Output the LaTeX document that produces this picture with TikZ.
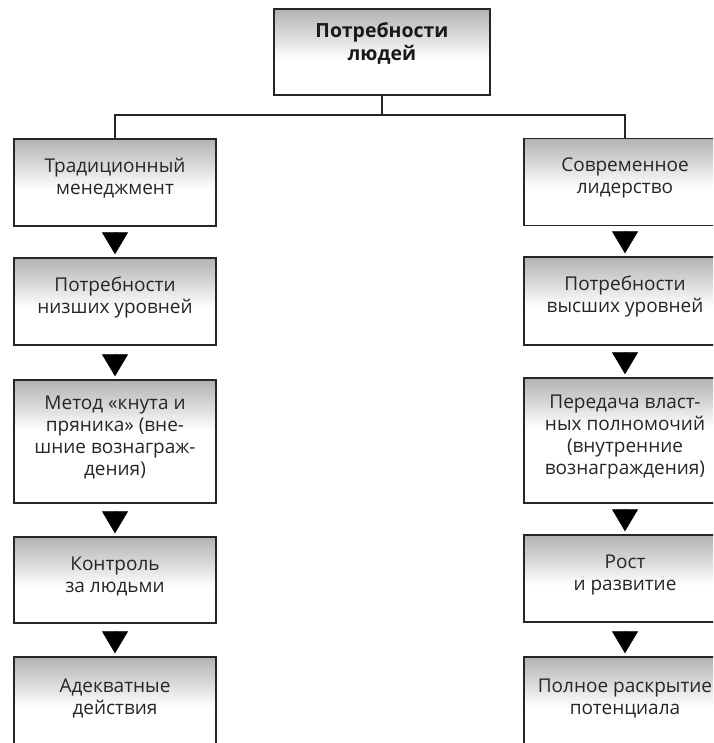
\documentclass[tikz,border=0pt]{standalone}
\usepackage{fontspec}
\setmainfont{Open Sans}
\usetikzlibrary{arrows.meta,calc}
\begin{document}
\begin{tikzpicture}[x=1pt,y=-1pt,
  box/.style={draw=black!85, line width=1.4pt, minimum width=202pt, inner sep=0pt,
    path picture={\foreach \i in {0,...,24}{%
        \pgfmathsetmacro\g{30*(1-\i/25)}%
        \pgfmathsetmacro\ya{-2*\i}%
        \pgfmathsetmacro\yb{-2*\i-2.3}%
        \fill[black!\g] ([yshift=\ya pt]path picture bounding box.north west) rectangle
          ([yshift=\yb pt]path picture bounding box.north east);}},
    label={[txt]center:{#1}}},
  txt/.style={align=center, text=black!85, font=\fontsize{19}{22}\selectfont, yshift=4pt, inner sep=0pt},
  toptxt/.style={txt, font=\bfseries\fontsize{19.5}{23}\selectfont, text=black!90, yshift=5pt},
  link/.style={draw=black!85, line width=1.2pt},
  tri/.style={draw=black, line width=0.6pt, -{Triangle[length=22pt,width=26pt]}, shorten <=8pt, shorten >=3pt}
]
\useasboundingbox (0,0) rectangle (713,743);
\clip (0,0) rectangle (713,743);
\fill[white] (0,0) rectangle (713,743);

\node[box={}, minimum width=216pt, minimum height=86pt,
  label={[toptxt]center:{Потребности\\людей}}] (top) at (382,52) {};

\node[box={Традиционный\\менеджмент}, minimum height=87pt] (L1) at (115,182.5) {};
\node[box={Потребности\\низших уровней}, minimum height=87pt] (L2) at (115,301.5) {};
\node[box={Метод «кнута и\\пряника» (вне-\\шние вознаграж-\\дения)}, minimum height=123pt] (L3) at (115,441.5) {};
\node[box={Контроль\\за людьми}, minimum height=86pt] (L4) at (115,580) {};
\node[box={Адекватные\\действия}, minimum height=90pt] (L5) at (115,702) {};

\node[box={Современное\\лидерство}, minimum height=87pt] (R1) at (625,182) {};
\node[box={Потребности\\высших уровней}, minimum height=88pt] (R2) at (625,301) {};
\node[box={Передача власт-\\ных полномочий\\(внутренние\\вознаграждения)}, minimum height=125pt] (R3) at (625,440.5) {};
\node[box={Рост\\и развитие}, minimum height=87pt] (R4) at (625,578.5) {};
\node[box={Полное раскрытие\\потенциала}, minimum height=90pt] (R5) at (625,702) {};

\coordinate (hub) at (382,115);
\draw[link] (top.south) -- (hub);
\draw[link] (hub) -| (L1.north);
\draw[link] (hub) -| (R1.north);

\draw[tri] (L1.south) -- (L2.north);
\draw[tri] (L2.south) -- (L3.north);
\draw[tri] (L3.south) -- (L4.north);
\draw[tri] (L4.south) -- (L5.north);
\draw[tri] (R1.south) -- (R2.north);
\draw[tri] (R2.south) -- (R3.north);
\draw[tri] (R3.south) -- (R4.north);
\draw[tri] (R4.south) -- (R5.north);
\end{tikzpicture}
\end{document}
